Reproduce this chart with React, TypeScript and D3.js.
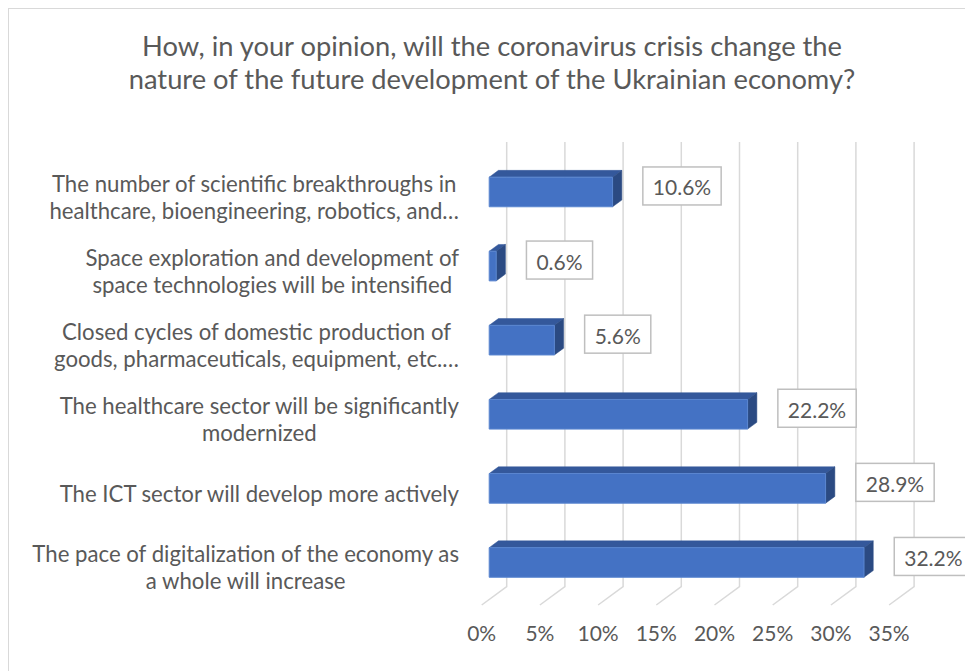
import React, { useEffect, useRef } from "react";
import * as d3 from "d3";

const titleLines = [
  "How, in your opinion, will the coronavirus crisis change the",
  "nature of the future development of the Ukrainian economy?",
];

const categories = [
  "The number of scientific breakthroughs in healthcare, bioengineering, robotics, and…",
  "Space exploration and development of space technologies will be intensified",
  "Closed cycles of domestic production of goods, pharmaceuticals, equipment, etc.…",
  "The healthcare sector will be significantly modernized",
  "The ICT sector will develop more actively",
  "The pace of digitalization of the economy as a whole will increase",
];

const categoryLines = [
  ["The number of scientific breakthroughs in", "healthcare, bioengineering, robotics, and…"],
  ["Space exploration and development of", "space technologies will be intensified"],
  ["Closed cycles of domestic production of", "goods, pharmaceuticals, equipment, etc.…"],
  ["The healthcare sector will be significantly", "modernized"],
  ["The ICT sector will develop more actively"],
  ["The pace of digitalization of the economy as", "a whole will increase"],
];

const values = [10.6, 0.6, 5.6, 22.2, 28.9, 32.2];

const tickValues = [0, 5, 10, 15, 20, 25, 30, 35];

const W = 965;
const H = 671;
const FONT = "Lato, 'Open Sans', sans-serif";
const TEXT = "#595959";

export default function App() {
  const ref = useRef<SVGSVGElement | null>(null);

  useEffect(() => {
    const svg = d3.select(ref.current);
    svg.selectAll("*").remove();

    // chart border (only top/left visible)
    svg
      .append("rect")
      .attr("x", 8.5)
      .attr("y", 8.5)
      .attr("width", 1200)
      .attr("height", 1000)
      .attr("fill", "white")
      .attr("stroke", "#D9D9D9")
      .attr("stroke-width", 1);

    // title
    const title = svg
      .append("text")
      .attr("text-anchor", "middle")
      .attr("font-family", FONT)
      .attr("font-size", 27.3)
      .attr("fill", TEXT);
    titleLines.forEach((t, i) => {
      title
        .append("tspan")
        .attr("x", 492)
        .attr("y", 56 + i * 33)
        .text(t);
    });

    const x = d3.scaleLinear().domain([0, 35]).range([481.7, 889.1]);
    const y = d3
      .scaleBand<string>()
      .domain(categories)
      .range([160.4, 605])
      .paddingInner(0.6)
      .paddingOuter(0.3);

    const DX = 25;
    const DY = 18.3;
    const floorY = 605;
    const topY = 160.4;
    const P = (v: number, yy: number, f: number): [number, number] => [
      x(v) + f * DX,
      yy - f * DY,
    ];

    // gridlines
    const grid = svg.append("g").attr("stroke", "#D9D9D9").attr("stroke-width", 1.5).attr("fill", "none");
    tickValues.forEach((t) => {
      const a = P(t, floorY, 0);
      const b = P(t, floorY, 1);
      const c = P(t, topY, 1);
      grid
        .append("path")
        .attr("d", d3.line()([a, b, c]));
    });

    // tick labels
    svg
      .append("g")
      .selectAll("text")
      .data(tickValues)
      .join("text")
      .attr("x", (t) => P(t, floorY, 0)[0])
      .attr("y", 641)
      .attr("text-anchor", "middle")
      .attr("font-family", FONT)
      .attr("font-size", 21)
      .attr("fill", TEXT)
      .text((t) => `${t}%`);

    // bars
    const fa = 0.3;
    const fb = 0.67;
    const bars = svg.append("g");
    categories.forEach((c, i) => {
      const v = values[i];
      const y0 = y(c)!;
      const y1 = y0 + y.bandwidth();
      const g = bars.append("g");
      const top = [P(0, y0, fa), P(v, y0, fa), P(v, y0, fb), P(0, y0, fb)];
      const side = [P(v, y0, fa), P(v, y0, fb), P(v, y1, fb), P(v, y1, fa)];
      const front = [P(0, y0, fa), P(v, y0, fa), P(v, y1, fa), P(0, y1, fa)];
      const poly = d3.line().curve(d3.curveLinearClosed);
      g.append("path").attr("d", poly(top as any)).attr("fill", "#34589B").attr("stroke", "#34589B").attr("stroke-width", 0.5);
      g.append("path").attr("d", poly(side as any)).attr("fill", "#2B4A82").attr("stroke", "#2B4A82").attr("stroke-width", 0.5);
      g.append("path").attr("d", poly(front as any)).attr("fill", "#4472C4").attr("stroke", "#5A86D0").attr("stroke-width", 1);
    });

    // data labels
    const labels = svg.append("g");
    categories.forEach((c, i) => {
      const v = values[i];
      const yc = y(c)! + y.bandwidth() / 2;
      const backEnd = P(v, yc, fb);
      const cy = P(v, yc, fa)[1] - 6;
      const g = labels.append("g");
      const rect = g.append("rect");
      const txt = g
        .append("text")
        .attr("font-family", FONT)
        .attr("font-size", 21)
        .attr("fill", TEXT)
        .attr("dominant-baseline", "central")
        .text(`${v.toFixed(1)}%`);
      const tw = (txt.node() as SVGTextElement).getComputedTextLength();
      const left = backEnd[0] + 21;
      const bw = tw + 20;
      rect
        .attr("x", left)
        .attr("y", cy - 19)
        .attr("width", bw)
        .attr("height", 38)
        .attr("fill", "white")
        .attr("stroke", "#BFBFBF")
        .attr("stroke-width", 1.5);
      txt.attr("x", left + 10).attr("y", cy + 1);
    });

    // category labels
    const cats = svg.append("g");
    categories.forEach((c, i) => {
      const lines = categoryLines[i];
      const yc = y(c)! + y.bandwidth() / 2;
      const lh = 27;
      const t = cats
        .append("text")
        .attr("font-family", FONT)
        .attr("font-size", 22.2)
        .attr("fill", TEXT)
        .attr("text-anchor", "middle");
      const spans = lines.map((l, k) =>
        t
          .append("tspan")
          .attr("y", yc + (k - (lines.length - 1) / 2) * lh)
          .attr("dy", "0.35em")
          .text(l)
      );
      const maxW = Math.max(
        ...spans.map((s) => (s.node() as SVGTSpanElement).getComputedTextLength())
      );
      const cx = 459 - maxW / 2;
      spans.forEach((s) => s.attr("x", cx));
    });
  }, []);

  return (
    <svg
      ref={ref}
      width={W}
      height={H}
      style={{ position: "fixed", left: 0, top: 0, display: "block" }}
    />
  );
}
